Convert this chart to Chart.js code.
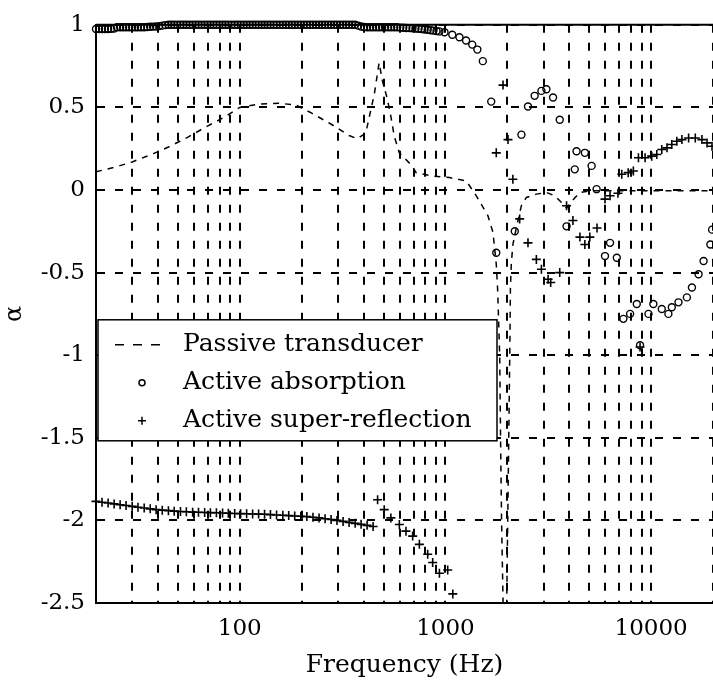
<!DOCTYPE html>
<html>
<head>
<meta charset="utf-8">
<script src="https://cdn.jsdelivr.net/npm/chart.js@4.4.1/dist/chart.umd.min.js"></script>
<style>
  html, body { margin: 0; padding: 0; background: #ffffff; }
  #wrap { width: 713px; height: 682px; }
</style>
</head>
<body>
<div id="wrap"><canvas id="alphaChart"></canvas></div>
<script>
// Passive transducer (dashed line)
const passiveFreq = [20, 25, 30, 38, 45, 56, 68, 84, 100, 124, 155, 187, 224, 281, 340, 372, 410, 426, 451, 476,
    493, 521, 543, 564, 597, 690, 720, 864, 1047, 1263, 1413, 1608, 1702, 1734, 1767, 1794, 1836, 1854, 1875, 1907,
    1941, 1986, 2009, 2032, 2055, 2070, 2090, 2128, 2211, 2340, 2476, 2770, 3098, 3403, 3667, 3882, 4168, 4508, 5036,
    7000, 10000, 15000, 20000];
const passiveAlpha = [0.11, 0.14, 0.17, 0.22, 0.26, 0.32, 0.38, 0.44, 0.5, 0.52, 0.525, 0.515, 0.465, 0.395, 0.33, 0.31, 0.345, 0.44, 0.58, 0.77,
    0.665, 0.555, 0.445, 0.325, 0.225, 0.145, 0.105, 0.085, 0.075, 0.055, -0.035, -0.155, -0.255, -0.35, -0.45, -0.6, -1.0, -1.5, -2.0, -2.5,
    -3.0, -2.5, -2.0, -1.5, -1.0, -0.6, -0.45, -0.33, -0.23, -0.095, -0.045, -0.025, -0.015, -0.035, -0.075, -0.11, -0.06, -0.015, -0.005,
    -0.005, -0.005, -0.005, -0.005];

// Active absorption (circles)
const absorbFreq = [20, 20.7, 21.4, 22.1, 22.9, 23.7, 24.5,
    25.3, 26.2, 27.1, 28, 29, 30, 31, 32, 33.1, 34.3,
    35.5, 36.7, 37.9, 39.2, 40.6, 42, 43.5,
    45, 46.5, 48, 49.7, 51.5, 53.2, 55, 57, 59, 61, 63, 65.2, 67.5, 69.7, 72, 74.5, 77, 79.7, 82.5, 85.2,
    88, 91.2, 94.5, 97.7, 101, 104.5, 108, 111.7, 115.5, 119.5, 123.5, 127.7, 132, 136.5, 141, 146, 151, 156.5,
    162, 167.5, 173, 179, 185, 191.5, 198, 205, 212, 219.5, 227, 235, 243, 251.5, 260, 269, 278, 287.5,
    297, 307.5, 318, 329, 340, 352, 364,
    376.5, 389, 402.5,
    416, 430.5, 445, 460.5, 476, 492.5, 509, 527, 545, 564, 583,
    603.5, 624, 646, 668, 691.5, 715, 740, 765, 792.5, 820, 847.5, 875, 905, 935,
    990, 1080, 1170, 1260, 1350, 1430, 1520, 1670, 1767, 2174, 2342, 2520, 2716, 2929, 3098, 3337, 3596, 3882,
    4255, 4340, 4764, 5139, 5433, 5968, 6316, 6813, 7335, 7906, 8520, 8838, 9710, 10260, 11270, 12140, 12610,
    13590, 14930, 15800, 17020, 18000, 19420, 19800];
const absorbAlpha = [0.975, 0.975, 0.975, 0.975, 0.975, 0.976, 0.978,
    0.985, 0.985, 0.985, 0.985, 0.985, 0.985, 0.985, 0.985, 0.985, 0.985,
    0.987, 0.988, 0.989, 0.99, 0.992, 0.995, 0.998,
    1, 1, 1, 1, 1, 1, 1, 1, 1, 1, 1, 1, 1, 1, 1, 1, 1, 1, 1, 1,
    1, 1, 1, 1, 1, 1, 1, 1, 1, 1, 1, 1, 1, 1, 1, 1, 1, 1,
    1, 1, 1, 1, 1, 1, 1, 1, 1, 1, 1, 1, 1, 1, 1, 1, 1, 1,
    1, 1, 1, 1, 1, 1, 1,
    0.995, 0.99, 0.987,
    0.985, 0.985, 0.985, 0.985, 0.985, 0.985, 0.985, 0.985, 0.985, 0.985, 0.985,
    0.983, 0.982, 0.981, 0.98, 0.979, 0.978, 0.976, 0.975, 0.972, 0.97, 0.967, 0.965, 0.962, 0.96,
    0.955, 0.94, 0.925, 0.905, 0.88, 0.85, 0.78, 0.535, -0.38, -0.25, 0.335, 0.505, 0.57, 0.6, 0.61, 0.56, 0.425, -0.22,
    0.125, 0.235, 0.225, 0.146, 0.005, -0.4, -0.32, -0.41, -0.78, -0.75, -0.69, -0.94, -0.75, -0.69, -0.72, -0.75, -0.71,
    -0.68, -0.65, -0.59, -0.51, -0.43, -0.33, -0.24];

// Active super-reflection (plus signs)
const reflectFreq = [20, 21.4, 22.9, 24.5, 26.2, 28, 30, 32, 34.3, 36.7, 39.2, 42, 45, 48, 51.5, 55, 59, 63, 67.5, 72,
    77, 82.5, 88, 94.5, 101, 108, 115.5, 123.5, 132, 141, 151, 162, 173, 185, 198, 212, 227, 243, 260, 278,
    297, 318, 340, 364, 389, 416, 445, 468, 504, 543, 597, 643, 693, 747, 820, 867, 935, 1026, 1086,
    1767, 1906, 2015, 2128, 2296, 2520, 2768, 2929, 3157, 3250, 3596, 3882, 4168, 4508, 4764, 5036, 5458,
    5968, 6316, 6900, 7200, 7740, 8200, 8680, 8838, 9350, 10070, 10660, 11270, 11950, 12610, 13340, 14120,
    15220, 16400, 17670, 18710, 19780];
const reflectAlpha = [-1.885, -1.89, -1.895, -1.9, -1.905, -1.91, -1.915, -1.92, -1.925, -1.93, -1.935, -1.938, -1.941, -1.944, -1.946, -1.948, -1.95, -1.951, -1.952, -1.953,
    -1.954, -1.955, -1.957, -1.958, -1.959, -1.96, -1.961, -1.962, -1.963, -1.965, -1.967, -1.969, -1.971, -1.973, -1.975, -1.977, -1.981, -1.985, -1.99, -1.995,
    -2.0, -2.006, -2.012, -2.018, -2.024, -2.03, -2.037, -1.875, -1.935, -1.985, -2.025, -2.065, -2.095, -2.145, -2.205, -2.255, -2.32, -2.3, -2.445,
    0.225, 0.635, 0.305, 0.065, -0.175, -0.32, -0.42, -0.48, -0.54, -0.56, -0.5, -0.095, -0.185, -0.285, -0.33, -0.285, -0.23,
    -0.055, -0.035, -0.02, 0.095, 0.105, 0.115, 0.195, -0.95, 0.195, 0.205, 0.215, 0.245, 0.255, 0.275, 0.295, 0.305,
    0.315, 0.315, 0.305, 0.285, 0.265];

// axis ticks
const xGrid = [20, 30, 40, 50, 60, 70, 80, 90, 100, 200, 300, 400, 500, 600, 700, 800, 900,
    1000, 2000, 3000, 4000, 5000, 6000, 7000, 8000, 9000, 10000, 20000];
const xLabels = [100, 1000, 10000];
const legendLabels = ['Passive transducer', 'Active absorption', 'Active super-reflection'];

const serif = 'DejaVu Serif';

function toPoints(xs, ys) {
    return xs.map((f, i) => ({ x: f, y: ys[i] }));
}

// top frame line, drawn under the markers
const topFrame = {
    id: 'topFrame',
    beforeDatasetsDraw(chart) {
        const { ctx, chartArea: a } = chart;
        ctx.save();
        ctx.strokeStyle = '#000';
        ctx.lineWidth = 2;
        ctx.beginPath();
        ctx.moveTo(a.left, a.top);
        ctx.lineTo(a.right, a.top);
        ctx.stroke();
        ctx.restore();
    }
};

// boxed legend inside the plot, like the original figure
const boxLegend = {
    id: 'boxLegend',
    afterDatasetsDraw(chart) {
        const { ctx, chartArea: a } = chart;
        const x0 = a.left + 2, y0 = a.top + 295, w = 399, h = 121;
        ctx.save();
        ctx.fillStyle = '#fff';
        ctx.fillRect(x0, y0, w, h);
        ctx.strokeStyle = '#000';
        ctx.lineWidth = 1.5;
        ctx.strokeRect(x0, y0, w, h);

        const rows = [y0 + 25, y0 + 63, y0 + 101];
        const mx = x0 + 44;
        // dashed sample
        ctx.setLineDash([9, 9]);
        ctx.beginPath();
        ctx.moveTo(x0 + 17, rows[0]);
        ctx.lineTo(x0 + 62, rows[0]);
        ctx.stroke();
        ctx.setLineDash([]);
        // circle sample
        ctx.beginPath();
        ctx.arc(mx, rows[1], 3, 0, Math.PI * 2);
        ctx.stroke();
        // plus sample
        ctx.beginPath();
        ctx.moveTo(mx - 4, rows[2]);
        ctx.lineTo(mx + 4, rows[2]);
        ctx.moveTo(mx, rows[2] - 4);
        ctx.lineTo(mx, rows[2] + 4);
        ctx.stroke();

        ctx.fillStyle = '#000';
        ctx.font = '25px "' + serif + '"';
        ctx.textBaseline = 'middle';
        ctx.textAlign = 'left';
        legendLabels.forEach((t, i) => ctx.fillText(t, x0 + 85, rows[i]));
        ctx.restore();
    }
};

function createAlphaChart(ctx) {
    new Chart(ctx, {
        type: 'scatter',
        data: {
            datasets: [
                {
                    label: legendLabels[0],
                    data: toPoints(passiveFreq, passiveAlpha),
                    showLine: true,
                    borderColor: '#000',
                    borderWidth: 1.5,
                    borderDash: [6, 6],
                    pointRadius: 0,
                    tension: 0,
                    clip: { left: 0, top: 0, right: 0, bottom: 0 }
                },
                {
                    label: legendLabels[1],
                    data: toPoints(absorbFreq, absorbAlpha),
                    showLine: false,
                    pointStyle: 'circle',
                    pointRadius: 3.5,
                    borderWidth: 1.4,
                    borderColor: '#000',
                    backgroundColor: 'rgba(0,0,0,0)',
                    clip: { left: 8, top: 8, right: 8, bottom: 0 }
                },
                {
                    label: legendLabels[2],
                    data: toPoints(reflectFreq, reflectAlpha),
                    showLine: false,
                    pointStyle: 'cross',
                    pointRadius: 4.5,
                    borderWidth: 1.6,
                    borderColor: '#000',
                    backgroundColor: '#000',
                    clip: { left: 8, top: 8, right: 8, bottom: 0 }
                }
            ]
        },
        options: {
            responsive: true,
            maintainAspectRatio: false,
            animation: false,
            layout: { autoPadding: false, padding: { top: 17, right: 0, left: 0, bottom: 0 } },
            plugins: {
                legend: { display: false },
                tooltip: { enabled: false }
            },
            scales: {
                x: {
                    type: 'logarithmic',
                    min: 20,
                    max: 20000,
                    afterBuildTicks: function(scale) {
                        scale.ticks = xGrid.map(v => ({ value: v }));
                    },
                    afterFit: function(scale) {
                        scale.height = 79;
                        scale.paddingLeft = 0;
                        scale.paddingRight = 0;
                    },
                    ticks: {
                        autoSkip: false,
                        maxRotation: 0,
                        padding: 12,
                        color: '#000',
                        font: { family: serif, size: 23 },
                        callback: function(value) {
                            return xLabels.includes(value) ? String(value) : '';
                        }
                    },
                    grid: { color: '#000', lineWidth: 2, drawTicks: false },
                    border: { display: true, color: '#000', width: 2, dash: [8, 10] },
                    title: {
                        display: true,
                        text: 'Frequency (Hz)',
                        color: '#000',
                        font: { family: serif, size: 25 },
                        padding: { top: 0, bottom: 2 }
                    }
                },
                y: {
                    type: 'linear',
                    min: -2.5,
                    max: 1,
                    afterFit: function(scale) {
                        scale.width = 96;
                    },
                    ticks: {
                        stepSize: 0.5,
                        padding: 11,
                        color: '#000',
                        font: { family: serif, size: 23 },
                        callback: function(value) {
                            return String(value);
                        }
                    },
                    grid: { color: '#000', lineWidth: 2, drawTicks: false },
                    border: { display: true, color: '#000', width: 2, dash: [8, 10] },
                    title: {
                        display: true,
                        text: 'α',
                        color: '#000',
                        font: { family: serif, size: 24 },
                        padding: { top: 0, bottom: 6 }
                    }
                }
            }
        },
        plugins: [topFrame, boxLegend]
    });
}

createAlphaChart(document.getElementById('alphaChart'));
</script>
</body>
</html>
